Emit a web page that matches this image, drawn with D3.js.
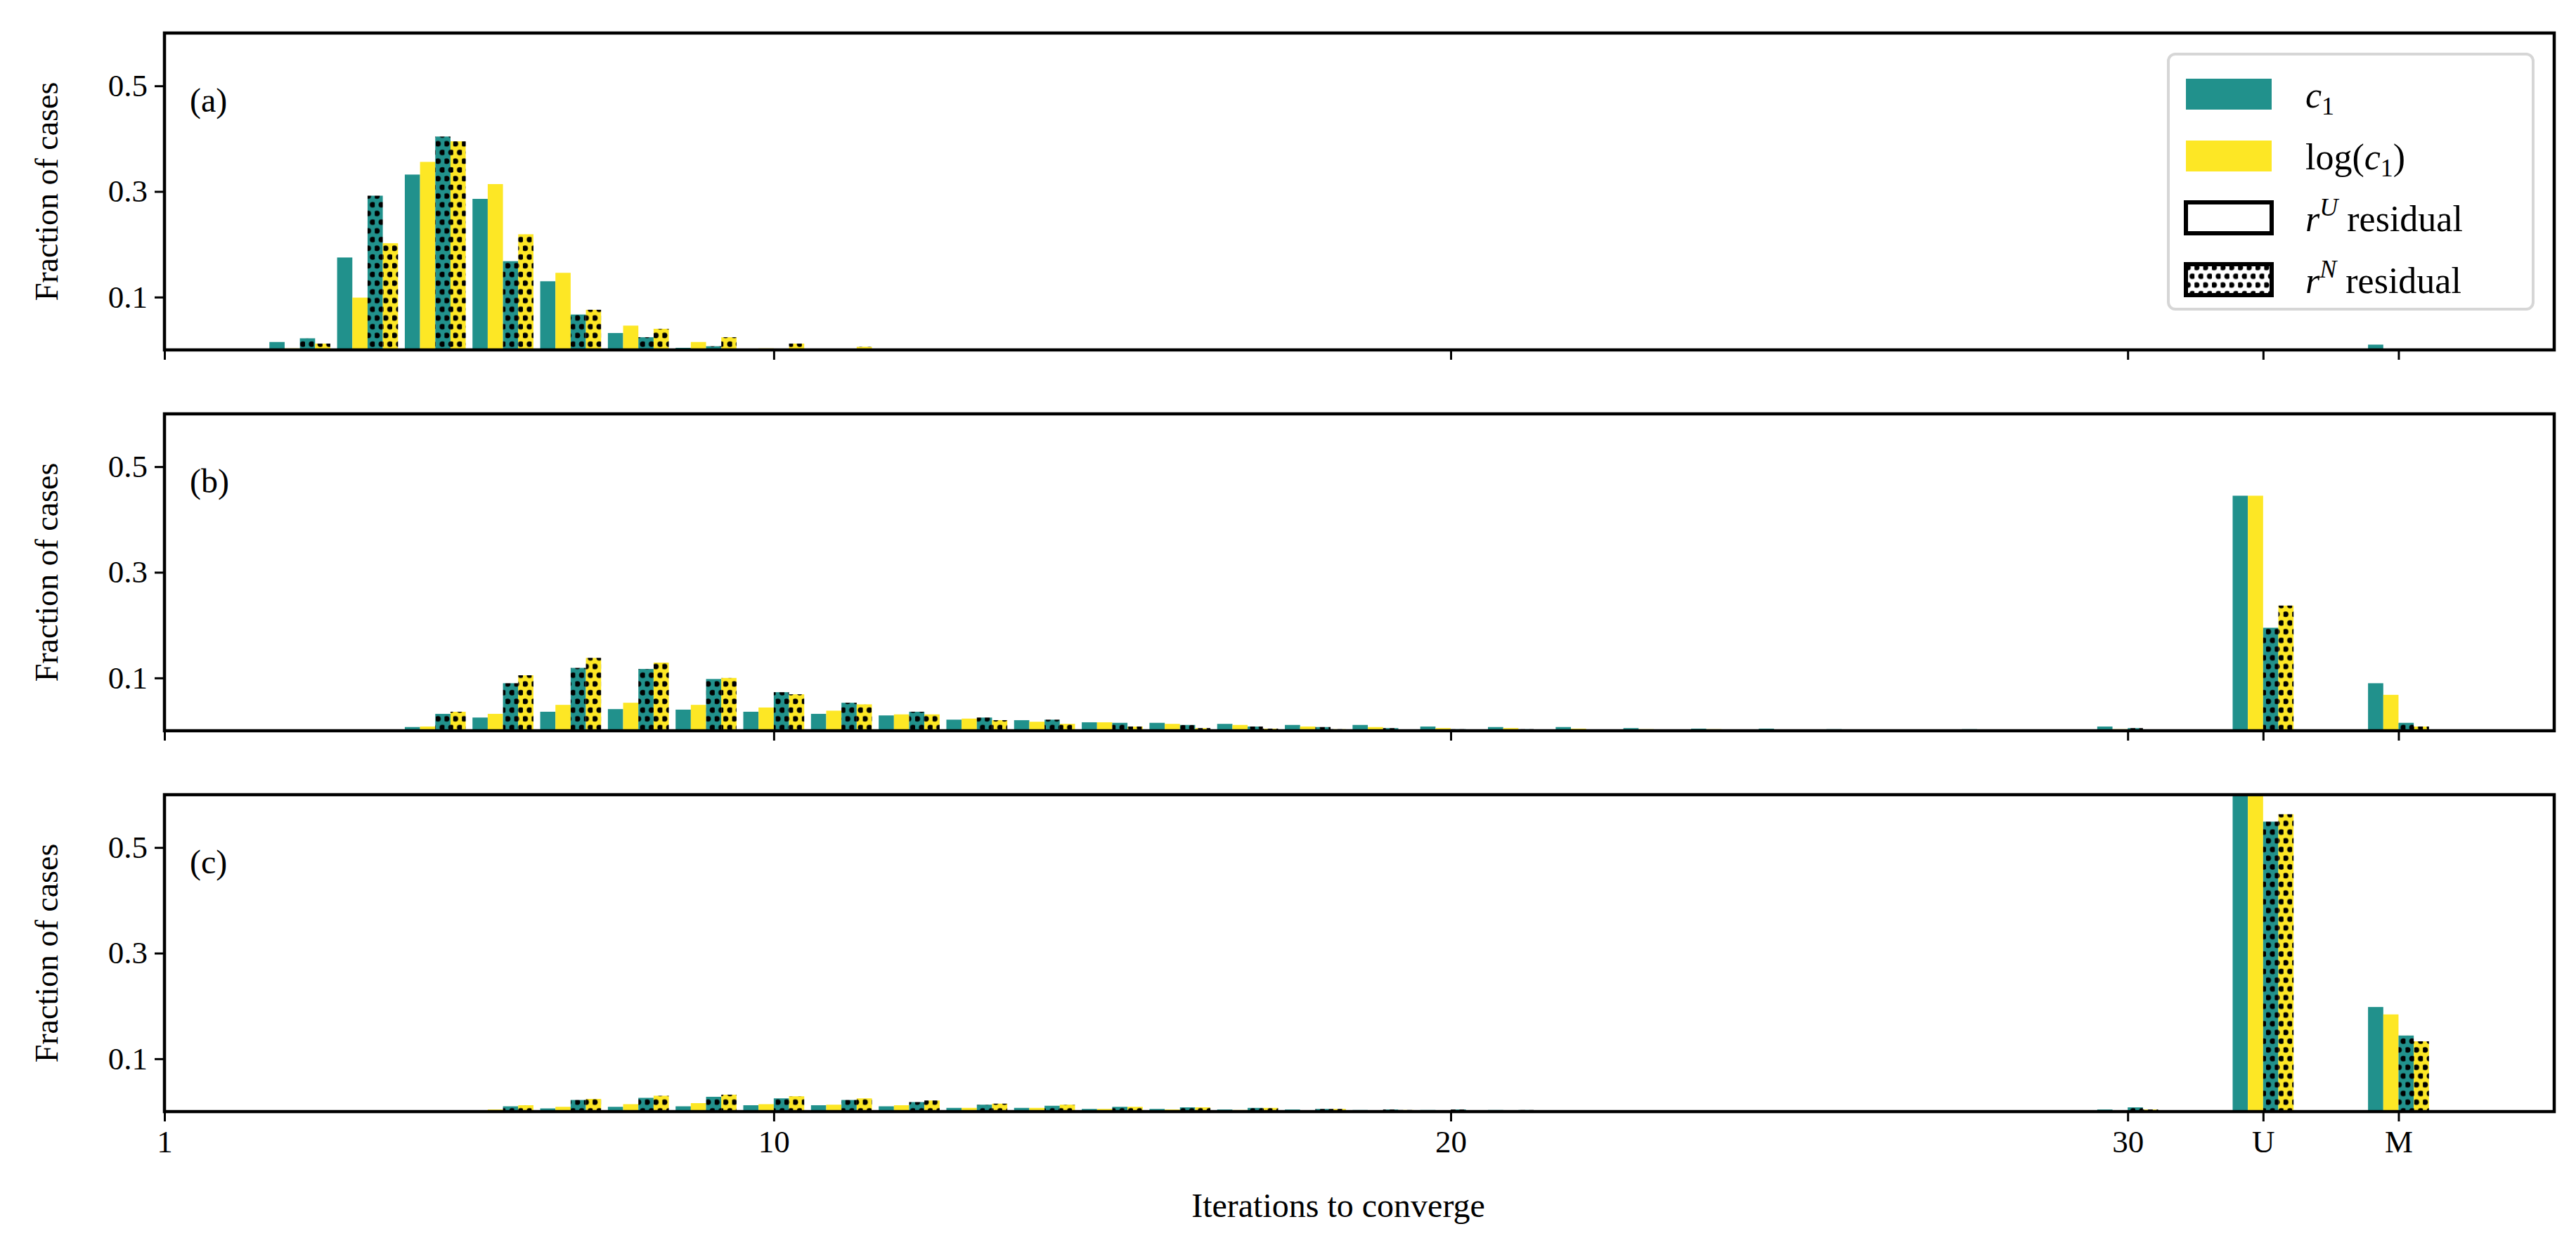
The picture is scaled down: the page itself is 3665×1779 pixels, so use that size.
<!DOCTYPE html>
<html>
<head>
<meta charset="utf-8">
<script src="https://cdn.jsdelivr.net/npm/d3@7"></script>
<style>
  body { margin: 0; background: #fff; }
  text { font-family: "Liberation Serif", "DejaVu Serif", serif; }
</style>
</head>
<body>
<svg id="chart" width="3665" height="1779"></svg>
<script>
// positions 1..30 are iteration counts, 32 = U (unconverged), 34 = M
const categories = [1,2,3,4,5,6,7,8,9,10,11,12,13,14,15,16,17,18,19,20,21,22,23,24,25,26,27,28,29,30,32,34]
const tickValues = [1, 10, 20, 30, 32, 34]
const tickLabels = ["1", "10", "20", "30", "U", "M"]
const yTicks = [0.1, 0.3, 0.5]
const panelLabels = ["(a)", "(b)", "(c)"]

// panel (a)
const aC1U  = [0,0,0.015,0.175,0.332,0.286,0.130,0.032,0.004,0,0,0,0,0,0,0,0,0,0,0,0,0,0,0,0,0,0,0,0,0,0,0.010]
const aLogU = [0,0,0.003,0.099,0.356,0.314,0.146,0.046,0.015,0.003,0,0,0,0,0,0,0,0,0,0,0,0,0,0,0,0,0,0,0,0,0,0.002]
const aC1N  = [0,0,0.022,0.292,0.404,0.168,0.067,0.024,0.007,0,0,0,0,0,0,0,0,0,0,0,0,0,0,0,0,0,0,0,0,0,0,0]
const aLogN = [0,0,0.012,0.202,0.395,0.219,0.076,0.040,0.024,0.012,0.006,0,0,0,0,0,0,0,0,0,0,0,0,0,0,0,0,0,0,0,0,0]
// panel (b)
const bC1U  = [0,0,0,0,0.007,0.025,0.036,0.041,0.040,0.036,0.032,0.029,0.021,0.020,0.016,0.015,0.013,0.011,0.011,0.008,0.007,0.007,0.005,0.004,0.004,0.003,0.001,0.003,0.001,0.008,0.445,0.090]
const bLogU = [0,0,0,0,0.008,0.032,0.049,0.053,0.049,0.044,0.038,0.031,0.023,0.017,0.016,0.013,0.011,0.008,0.007,0.005,0.005,0.004,0.003,0.003,0.001,0.001,0,0,0,0.003,0.445,0.068]
const bC1N  = [0,0,0,0,0.032,0.090,0.119,0.117,0.098,0.073,0.053,0.036,0.025,0.021,0.015,0.011,0.008,0.007,0.005,0.003,0.003,0.001,0.001,0,0,0,0,0,0,0.005,0.195,0.015]
const bLogN = [0,0,0,0,0.036,0.105,0.138,0.129,0.100,0.069,0.050,0.031,0.020,0.013,0.008,0.005,0.004,0.003,0,0,0,0,0,0,0,0,0,0,0,0,0.237,0.008]
// panel (c)
const cC1U  = [0,0,0,0,0,0,0.006,0.009,0.010,0.012,0.012,0.010,0.007,0.007,0.005,0.005,0.004,0.004,0.003,0.003,0.003,0.001,0.001,0.001,0,0,0,0,0,0.004,0.64,0.198]
const cLogU = [0,0,0,0,0,0.004,0.009,0.014,0.016,0.014,0.013,0.012,0.007,0.007,0.005,0.004,0.003,0.001,0.001,0.001,0.001,0,0,0,0,0,0,0,0,0.001,0.64,0.184]
const cC1N  = [0,0,0,0,0,0.010,0.022,0.026,0.028,0.025,0.022,0.018,0.013,0.011,0.009,0.008,0.007,0.005,0.004,0.004,0.003,0.001,0.001,0.001,0.001,0,0,0,0,0.008,0.549,0.144]
const cLogN = [0,0,0,0,0,0.012,0.024,0.030,0.032,0.029,0.025,0.021,0.015,0.013,0.009,0.008,0.007,0.005,0.003,0.001,0,0,0,0,0,0,0,0,0,0.004,0.563,0.133]

const panelData = [
    [aC1U, aLogU, aC1N, aLogN],
    [bC1U, bLogU, bC1N, bLogN],
    [cC1U, cLogU, cC1N, cLogN]
]

const TEAL = "#21918c"
const YELLOW = "#fde725"
const seriesStyle = [
    { color: TEAL, dots: false },
    { color: YELLOW, dots: false },
    { color: TEAL, dots: true },
    { color: YELLOW, dots: true }
]

const svg = d3.select("#chart")
const left = 234, right = 3634
const panelTops = [47, 589, 1131]
const panelH = 451
const barW = 0.225

const x = d3.scaleLinear().domain([1, 36.3]).range([left, right])

// dotted hatch patterns, one per bar colour
const defs = svg.append("defs")
;[["dotTeal", TEAL], ["dotYellow", YELLOW], ["dotWhite", "#fff"]].forEach(([id, col]) => {
    let p = defs.append("pattern").attr("id", id)
        .attr("patternUnits", "userSpaceOnUse").attr("width", 12.4).attr("height", 24.8)
    p.append("rect").attr("width", 12.4).attr("height", 24.8).attr("fill", col)
    p.append("circle").attr("cx", 3.1).attr("cy", 6.2).attr("r", 4).attr("fill", "#000")
    p.append("circle").attr("cx", 9.3).attr("cy", 18.6).attr("r", 4).attr("fill", "#000")
})

panelData.forEach((series, pi) => {
    const top = panelTops[pi]
    const y = d3.scaleLinear().domain([0, 0.6]).range([top + panelH, top])
    const g = svg.append("g")

    g.append("clipPath").attr("id", "clip" + pi)
        .append("rect").attr("x", left).attr("y", top).attr("width", right - left).attr("height", panelH)

    const bars = g.append("g").attr("clip-path", `url(#clip${pi})`)
    series.forEach((vals, si) => {
        const st = seriesStyle[si]
        const fill = st.dots ? (st.color === TEAL ? "url(#dotTeal)" : "url(#dotYellow)") : st.color
        bars.selectAll(null)
            .data(vals.map((v, i) => [categories[i], v]).filter(d => d[1] > 0))
            .enter().append("rect")
            .attr("x", d => x(d[0] - 2 * barW + si * barW))
            .attr("width", x(1 + barW) - x(1))
            .attr("y", d => y(d[1]))
            .attr("height", d => y(0) - y(d[1]))
            .attr("fill", fill)
    })

    // axes
    const yAxis = g.append("g").attr("transform", `translate(${left},0)`)
        .call(d3.axisLeft(y).tickValues(yTicks).tickSize(14).tickPadding(10).tickFormat(d3.format(".1f")))
    const xAxis = g.append("g").attr("transform", `translate(0,${top + panelH})`)
        .call(d3.axisBottom(x).tickValues(tickValues).tickSize(14).tickPadding(12)
            .tickFormat((d, i) => pi === 2 ? tickLabels[i] : ""))
    ;[yAxis, xAxis].forEach(ax => {
        ax.select(".domain").remove()
        ax.selectAll(".tick line").attr("stroke", "#000").attr("stroke-width", 3)
        ax.selectAll("text").attr("font-size", 45).attr("fill", "#000")
            .attr("font-family", "Liberation Serif, DejaVu Serif, serif")
    })

    g.append("rect").attr("x", left).attr("y", top).attr("width", right - left).attr("height", panelH)
        .attr("fill", "none").attr("stroke", "#000").attr("stroke-width", 4.5)

    g.append("text").attr("x", left + 36).attr("y", top + 112)
        .attr("font-size", 48).text(panelLabels[pi])

    g.append("text")
        .attr("transform", `translate(${82},${top + panelH / 2}) rotate(-90)`)
        .attr("text-anchor", "middle").attr("font-size", 46).text("Fraction of cases")
})

svg.append("text").attr("x", (left + right) / 2 - 30).attr("y", 1732)
    .attr("text-anchor", "middle").attr("font-size", 48).text("Iterations to converge")

// legend
const lg = svg.append("g").attr("transform", "translate(3085,77)")
lg.append("rect").attr("width", 519).attr("height", 363).attr("rx", 10)
    .attr("fill", "#fff").attr("stroke", "#d6d6d6").attr("stroke-width", 4)
const legendRows = [
    { fill: TEAL, stroke: "none" },
    { fill: YELLOW, stroke: "none" },
    { fill: "#fff", stroke: "#000" },
    { fill: "url(#dotWhite)", stroke: "#000" }
]
legendRows.forEach((r, i) => {
    const ry = 35 + i * 88
    lg.append("rect").attr("x", 25).attr("y", ry).attr("width", 122).attr("height", 44)
        .attr("fill", r.fill).attr("stroke", r.stroke).attr("stroke-width", r.stroke === "none" ? 0 : 6)
})
const lt = (i) => lg.append("text").attr("x", 195).attr("y", 76 + i * 88).attr("font-size", 52)
let t0 = lt(0)
t0.append("tspan").attr("font-style", "italic").text("c")
t0.append("tspan").attr("font-size", 36).attr("dy", 10).text("1")
let t1 = lt(1)
t1.append("tspan").text("log(")
t1.append("tspan").attr("font-style", "italic").text("c")
t1.append("tspan").attr("font-size", 36).attr("dy", 10).text("1")
t1.append("tspan").attr("dy", -10).text(")")
;["U", "N"].forEach((s, k) => {
    let t = lt(2 + k)
    t.append("tspan").attr("font-style", "italic").text("r")
    t.append("tspan").attr("font-style", "italic").attr("font-size", 36).attr("dy", -22).text(s)
    t.append("tspan").attr("dy", 22).text(" residual")
})
</script>
</body>
</html>
